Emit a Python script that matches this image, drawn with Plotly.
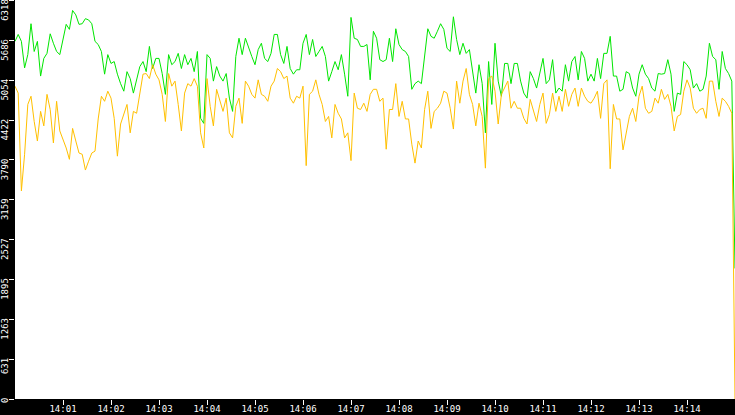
import plotly.graph_objects as go
import pandas as pd

green = [
    5670, 5780, 5670, 5250, 5460, 5950, 5510, 5670, 5120, 5400,
    5480, 5790, 5640, 5510, 5460, 5720, 5940, 5860, 6160, 6090,
    5940, 5950, 6030, 6010, 5950, 5670, 5620, 5510, 5150, 5460,
    5320, 5350, 5150, 5000, 4880, 5190, 5080, 4850,
    5040, 5270, 5350, 5190, 5590, 5240, 5400, 5400, 5160, 4830,
    5460, 5300, 5350, 5480, 5240, 5460, 5300, 5400, 5190, 5510,
    4450, 4370, 5460, 5400, 5040, 5270, 5120, 5040, 5160, 4770,
    4560, 5430, 5720, 5460, 5720, 5560, 5430, 5300,
    5540, 5640, 5400, 5350, 5480, 5780, 5780, 5460, 5320, 5590,
    5240, 5150, 5220, 5220, 5640, 5780, 5460, 5700, 5430, 5510,
    5590, 5430, 5040, 5190, 5350, 5220, 5460, 5150, 4800, 6050,
    5720, 5700, 5590, 5590, 5620, 5060, 5830,
    5720, 5380, 5350, 5380, 5720, 5350, 5870, 5620, 5540, 5510,
    5430, 4910, 5000, 5040, 5000, 5480, 5870, 5750, 5720, 5830,
    5950, 5860, 5560, 5510, 6060, 5700, 5460, 5640, 5480, 5540,
    5220, 4850, 5300, 5000, 4220, 5350, 4670, 5640,
    5040, 4800, 5320, 5320, 5000, 5320, 5320, 5040, 4850, 4770,
    5190, 5080, 4930, 5150, 5400, 5000, 5060, 5380, 4850, 4930,
    4880, 5300, 5040, 5350, 5430, 5060, 5510, 5400, 5040, 5150,
    5040, 5400, 5080, 5480, 5480, 5750, 5120,
    5120, 4880, 4910, 5190, 5160, 4930, 4800, 5150, 5300, 5150,
    5080, 4930, 4880, 5160, 5150, 5160, 5380, 5150, 4560, 4850,
    4830, 5350, 5300, 5220, 4930, 5000, 4880, 4910, 5120, 5640,
    5430, 5380, 4910, 5510, 5240, 5160, 5040,
    2070,
]

orange = [
    4960, 4850, 3300, 3880, 4670, 4800, 4400, 4090, 4560, 4330,
    4830, 4590, 4060, 4720, 4250, 4120, 3980, 3800, 4290, 4090,
    3900, 3880, 3630, 3770, 3900, 3930, 4440, 4800, 4720, 4880,
    4770, 4450, 3850, 4360, 4530, 4670, 4220, 4560,
    4530, 4850, 5150, 5160, 5080, 5300, 5150, 5060, 4830, 4400,
    5160, 4960, 5040, 4670, 4250, 4850, 5000, 4960, 5080, 4960,
    4220, 3980, 5080, 4640, 4330, 4910, 4720, 4560, 4770, 4220,
    4140, 4640, 4770, 4370, 5040, 4960, 4830, 4770,
    5060, 4830, 4800, 4720, 4960, 5040, 5240, 5190, 5080, 5120,
    4770, 4690, 4800, 4770, 4960, 3700, 4830, 4880, 5060, 4830,
    4670, 4400, 4480, 4140, 4670, 4530, 4440, 4140, 4220, 3780,
    4850, 4610, 4590, 4690, 4560, 4830, 4910,
    4910, 4720, 4770, 3960, 4590, 4590, 5000, 4480, 4720, 4440,
    4440, 4040, 3740, 4090, 3980, 4590, 4880, 4290, 4560, 4610,
    4690, 4880, 4850, 4610, 4280, 5040, 4690, 5040, 5240, 4830,
    4670, 4330, 4690, 4480, 3660, 5080, 5120, 4880,
    4360, 4830, 4930, 5040, 4610, 4720, 4610, 4610, 4450, 4360,
    4750, 4560, 4400, 4670, 4850, 4370, 4510, 4850, 4560, 4800,
    4560, 4910, 4640, 4830, 4930, 4640, 4930, 4800, 4720, 4690,
    4770, 4880, 4450, 5000, 5060, 3650, 4670,
    4440, 4440, 3950, 4200, 4480, 4610, 4400, 4800, 4960, 4610,
    4530, 4560, 4770, 4690, 4910, 4750, 4830, 4640, 4250, 4480,
    4510, 4880, 5060, 4930, 4610, 4530, 4590, 4610, 4450, 5040,
    5040, 4720, 4480, 4770, 4720, 4640, 4530,
    0,
]

y_tick_labels = ["0", "631", "1263", "1895", "2527", "3159", "3790",
                 "4422", "5054", "5686", "6318"]
x_tick_labels = ["14:01", "14:02", "14:03", "14:04", "14:05", "14:06", "14:07",
                 "14:08", "14:09", "14:10", "14:11", "14:12", "14:13", "14:14"]

day = "2024-01-01 "
t0 = pd.Timestamp(day + "14:00:00")
times = [t0 + pd.Timedelta(seconds=4 * i) for i in range(len(green))]

fig = go.Figure()
fig.add_trace(go.Scatter(x=times, y=green, mode="lines",
                         line=dict(color="#00e600", width=1), hoverinfo="skip"))
fig.add_trace(go.Scatter(x=times, y=orange, mode="lines",
                         line=dict(color="#ffc000", width=1), hoverinfo="skip"))

fnt = dict(family="DejaVu Sans Mono", size=9, color="white")

fig.update_layout(
    width=735, height=415,
    paper_bgcolor="black", plot_bgcolor="white",
    margin=dict(l=15, r=0, t=0, b=16, pad=0, autoexpand=False),
    showlegend=False,
    xaxis=dict(
        type="date",
        range=[t0, t0 + pd.Timedelta(minutes=15)],
        tickvals=[pd.Timestamp(day + s) for s in x_tick_labels],
        ticktext=x_tick_labels,
        ticks="outside", ticklen=5, tickcolor="white", tickwidth=1,
        tickfont=fnt, showgrid=False, zeroline=False, showline=False,
        ticklabelstandoff=-4,
    ),
    yaxis=dict(
        range=[0, 6326],
        tickvals=[int(s) for s in y_tick_labels],
        ticktext=[s + "\u00a0" * len(s) for s in y_tick_labels],
        tickangle=-90,
        ticks="outside", ticklen=5, tickcolor="white", tickwidth=1,
        tickfont=fnt, showgrid=False, zeroline=False, showline=False,
        ticklabelstandoff=-3, ticklabeloverflow="allow",
    ),
)

fig.write_html(
    "out.html",
    config={"staticPlot": True},
    post_script="document.body.style.margin='0';document.body.style.padding='0';"
                "document.body.style.overflow='hidden';",
)
